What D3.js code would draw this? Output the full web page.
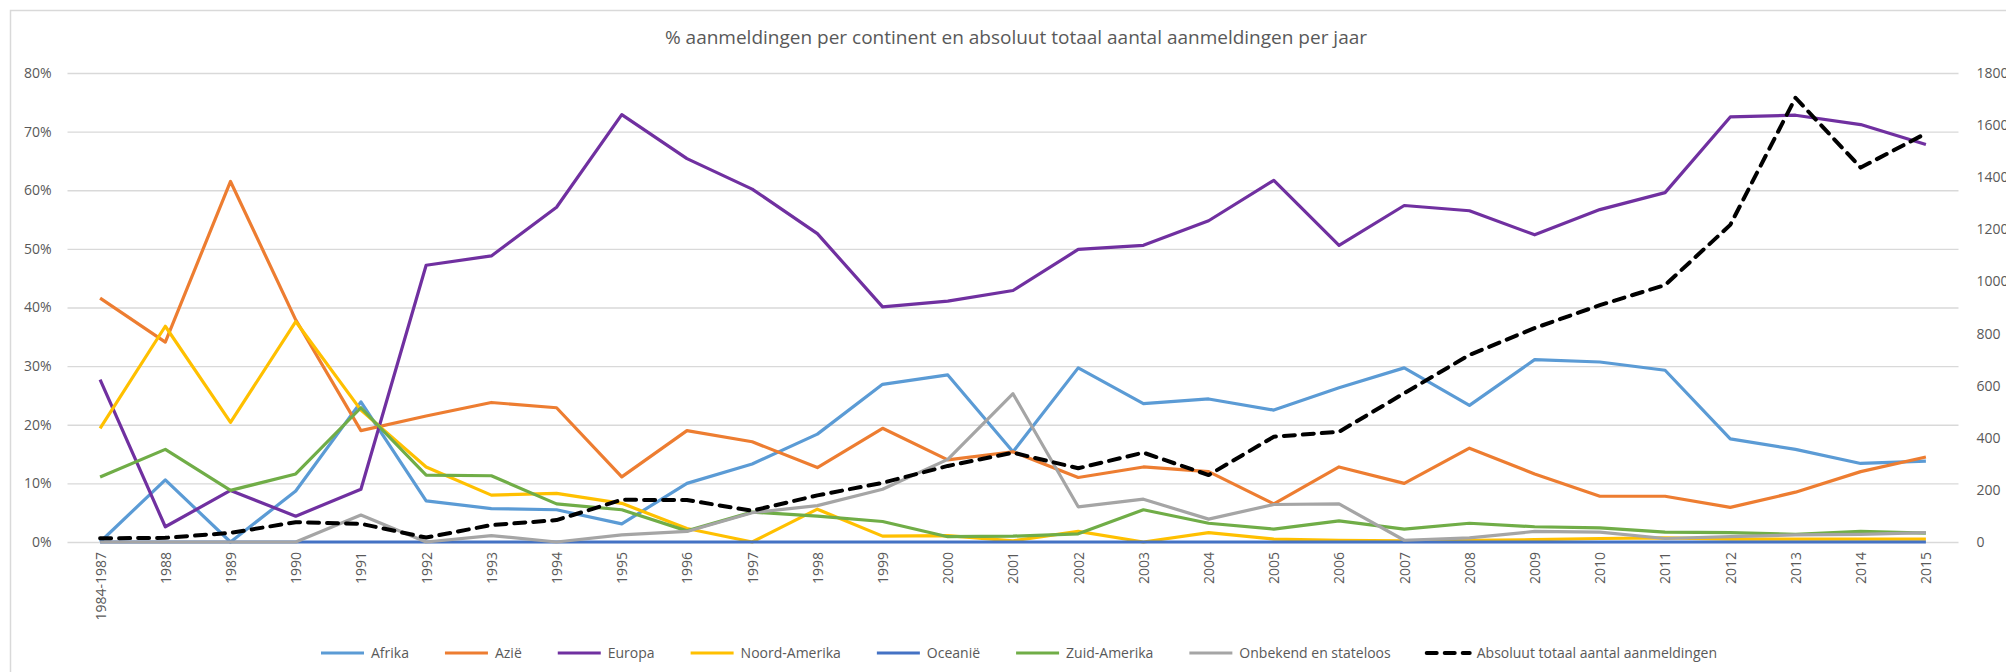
<!DOCTYPE html>
<html>
<head>
<meta charset="utf-8">
<script src="https://cdn.jsdelivr.net/npm/d3@7"></script>
<style>
  body { margin: 0; background: #fff; }
  text { font-family: "Open Sans", "Noto Sans", sans-serif; fill: #595959; }
</style>
</head>
<body>
<div id="chart"></div>
<script>
// categories (x axis)
var categories = ["1984-1987", "1988", "1989", "1990", "1991", "1992", "1993", "1994", "1995",
  "1996", "1997", "1998", "1999", "2000", "2001", "2002", "2003", "2004", "2005", "2006",
  "2007", "2008", "2009", "2010", "2011", "2012", "2013", "2014", "2015"];

// percentages per continent (left axis)
var afrika = [0, 10.6, 0, 8.7, 23.9, 7.0, 5.7, 5.5, 3.1, 10.0, 13.3, 18.4, 26.9, 28.5, 15.4, 29.7, 23.6, 24.4, 22.5, 26.3, 29.7, 23.3, 31.1, 30.7, 29.3, 17.6, 15.8, 13.4, 13.8];
var azie = [41.6, 34.1, 61.5, 37.9, 19.0, 21.5, 23.8, 22.9, 11.1, 19.0, 17.1, 12.7, 19.4, 14.0, 15.4, 11.0, 12.8, 12.0, 6.5, 12.8, 10.0, 16.0, 11.6, 7.8, 7.8, 5.9, 8.5, 12.0, 14.5];
var europa = [27.7, 2.6, 8.8, 4.4, 9.0, 47.2, 48.8, 57.1, 72.9, 65.4, 60.2, 52.6, 40.1, 41.1, 42.9, 49.9, 50.6, 54.8, 61.7, 50.6, 57.4, 56.5, 52.4, 56.7, 59.6, 72.5, 72.8, 71.2, 67.8];
var noordAmerika = [19.4, 36.8, 20.4, 37.6, 22.5, 12.8, 8.0, 8.3, 6.6, 2.3, 0, 5.6, 1.0, 1.1, 0.2, 1.8, 0, 1.6, 0.5, 0.3, 0.2, 0.3, 0.4, 0.6, 0.7, 0.5, 0.5, 0.5, 0.5];
var oceanie = [0, 0, 0, 0, 0, 0, 0, 0, 0, 0, 0, 0, 0, 0, 0, 0, 0, 0, 0, 0, 0, 0, 0, 0, 0, 0, 0, 0, 0];
var zuidAmerika = [11.1, 15.8, 8.8, 11.6, 22.9, 11.4, 11.3, 6.5, 5.5, 1.9, 5.1, 4.4, 3.5, 0.9, 1.0, 1.4, 5.5, 3.2, 2.2, 3.6, 2.2, 3.2, 2.6, 2.4, 1.7, 1.6, 1.3, 1.8, 1.5];
var onbekend = [0, 0, 0, 0, 4.6, 0, 1.1, 0, 1.2, 1.8, 5.0, 6.2, 9.0, 14.1, 25.3, 6.0, 7.3, 3.9, 6.4, 6.5, 0.3, 0.7, 1.8, 1.7, 0.6, 0.9, 1.2, 1.3, 1.6];

// absolute total (right axis)
var totaal = [14, 16, 35, 76, 70, 17, 65, 84, 162, 161, 120, 179, 227, 292, 343, 283, 343, 257, 404, 423, 571, 718, 821, 909, 986, 1217, 1705, 1437, 1568];

// tick values
var leftTicks = [0, 0.1, 0.2, 0.3, 0.4, 0.5, 0.6, 0.7, 0.8];
var rightTicks = [0, 200, 400, 600, 800, 1000, 1200, 1400, 1600, 1800];

var series = [
  { name: "Afrika", values: afrika, color: "#5B9BD5" },
  { name: "Azië", values: azie, color: "#ED7D31" },
  { name: "Europa", values: europa, color: "#7030A0" },
  { name: "Noord-Amerika", values: noordAmerika, color: "#FFC000" },
  { name: "Oceanië", values: oceanie, color: "#4472C4" },
  { name: "Zuid-Amerika", values: zuidAmerika, color: "#70AD47" },
  { name: "Onbekend en stateloos", values: onbekend, color: "#A5A5A5" }
];
var totalName = "Absoluut totaal aantal aanmeldingen";

var svgWidth = 2006;
var svgHeight = 672;

var svg = d3.select("#chart")
  .append("svg")
  .attr("width", svgWidth)
  .attr("height", svgHeight);

// chart border
svg.append("rect")
  .attr("x", 10.5)
  .attr("y", 10.5)
  .attr("width", 2100)
  .attr("height", 800)
  .attr("fill", "none")
  .attr("stroke", "#d9d9d9")
  .attr("stroke-width", 1.5);

// title
svg.append("text")
  .attr("x", 1016)
  .attr("y", 44)
  .attr("text-anchor", "middle")
  .style("font-size", "19px")
  .text("% aanmeldingen per continent en absoluut totaal aantal aanmeldingen per jaar");

// plot area
var plot = { left: 67.5, right: 1958.5, top: 73, bottom: 542 };

var xScale = d3.scalePoint()
  .domain(categories)
  .range([plot.left, plot.right])
  .padding(0.5);

var yLeft = d3.scaleLinear()
  .domain([0, 0.8])
  .range([plot.bottom, plot.top]);

var yRight = d3.scaleLinear()
  .domain([0, 1800])
  .range([plot.bottom, plot.top]);

// gridlines + left labels
var leftAxis = svg.append("g")
  .attr("transform", "translate(" + plot.left + ",0)")
  .call(d3.axisLeft(yLeft)
    .tickValues(leftTicks)
    .tickFormat(d3.format(".0%"))
    .tickSize(-(plot.right - plot.left))
    .tickPadding(16));
leftAxis.select(".domain").remove();
leftAxis.selectAll("line").attr("stroke", "#d9d9d9").attr("stroke-width", 1.3);
leftAxis.selectAll("text").style("font-size", "14px").attr("fill", "#595959");

// right labels
var rightAxis = svg.append("g")
  .attr("transform", "translate(" + plot.right + ",0)")
  .call(d3.axisRight(yRight)
    .tickValues(rightTicks)
    .tickFormat(d3.format("d"))
    .tickSize(0)
    .tickPadding(18));
rightAxis.select(".domain").remove();
rightAxis.selectAll("text").style("font-size", "14px").attr("fill", "#595959");

// x labels (rotated)
var xAxis = svg.append("g")
  .attr("transform", "translate(0," + plot.bottom + ")")
  .call(d3.axisBottom(xScale).tickSize(0).tickPadding(0));
xAxis.select(".domain").remove();
xAxis.selectAll("text")
  .style("font-size", "14px")
  .attr("fill", "#595959")
  .attr("transform", "rotate(-90)")
  .attr("text-anchor", "end")
  .attr("x", -10)
  .attr("y", 0)
  .attr("dy", "0.35em");

// series lines
var lineLeft = d3.line()
  .x(function (d, i) { return xScale(categories[i]); })
  .y(function (d) { return yLeft(d / 100); });

var lineRight = d3.line()
  .x(function (d, i) { return xScale(categories[i]); })
  .y(function (d) { return yRight(d); });

svg.append("g")
  .selectAll("path")
  .data(series)
  .enter()
  .append("path")
  .attr("d", function (s) { return lineLeft(s.values); })
  .attr("fill", "none")
  .attr("stroke", function (s) { return s.color; })
  .attr("stroke-width", 3.2)
  .attr("stroke-linejoin", "round");

svg.append("path")
  .attr("d", lineRight(totaal))
  .attr("fill", "none")
  .attr("stroke", "#000")
  .attr("stroke-width", 4)
  .attr("stroke-dasharray", "11,8")
  .attr("stroke-linecap", "round")
  .attr("stroke-linejoin", "round");

// legend
var legendItems = series.map(function (s) {
  return { name: s.name, color: s.color, dash: null };
});
legendItems.push({ name: totalName, color: "#000", dash: "10,8" });

var legend = svg.append("g");
var lx = 0;
legendItems.forEach(function (item) {
  var g = legend.append("g").attr("transform", "translate(" + lx + ",0)");
  g.append("line")
    .attr("x1", 2).attr("x2", 45)
    .attr("y1", 0).attr("y2", 0)
    .attr("stroke", item.color)
    .attr("stroke-width", item.dash ? 4 : 3.2)
    .attr("stroke-dasharray", item.dash)
    .attr("stroke-linecap", item.dash ? "round" : "butt");
  var t = g.append("text")
    .attr("x", 52)
    .attr("y", 0)
    .attr("dy", "0.35em")
    .style("font-size", "14px")
    .text(item.name);
  lx += 52 + t.node().getComputedTextLength() + 34;
});
var legendWidth = lx - 34;
legend.attr("transform", "translate(" + (1018 - legendWidth / 2) + ",653)");
</script>
</body>
</html>
